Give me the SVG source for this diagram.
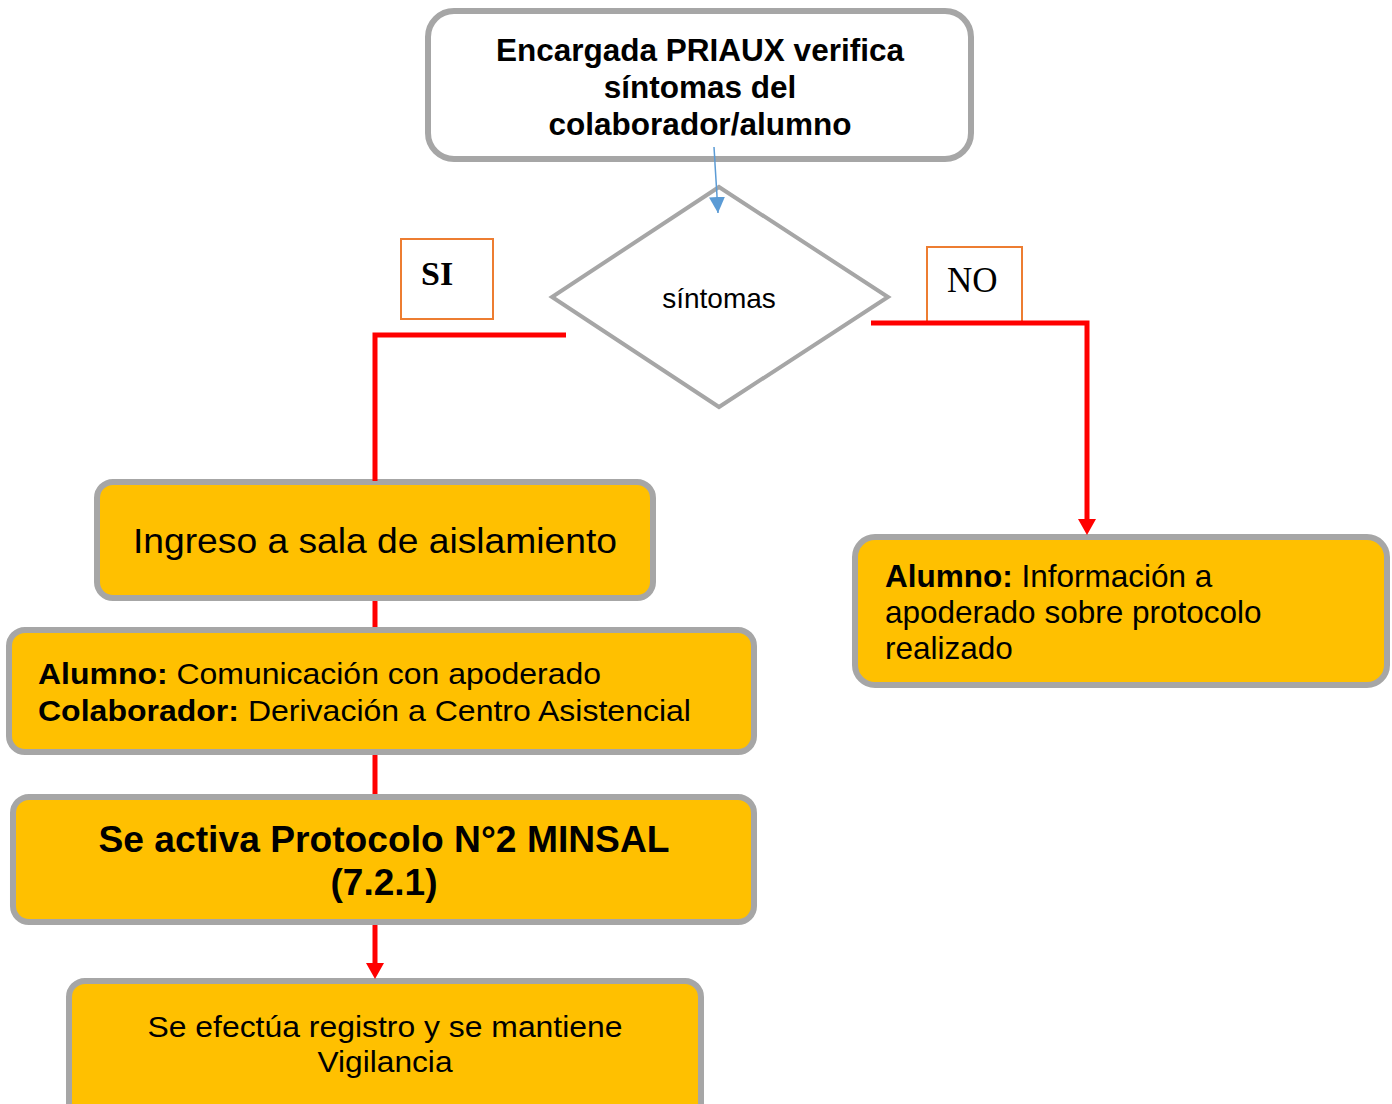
<svg xmlns="http://www.w3.org/2000/svg" width="1392" height="1104" viewBox="0 0 1392 1104">
<style>
.box{fill:#FFC000;stroke:#A6A6A6;stroke-width:6}
.top{fill:#FFFFFF;stroke:#A6A6A6;stroke-width:6}
.lbl{fill:#FFFFFF;stroke:#ED7D31;stroke-width:2}
.t{font-family:"Liberation Sans",Arial,sans-serif;fill:#000}
.s{font-family:"Liberation Serif","Times New Roman",serif;fill:#000}
.red{stroke:#FF0000;stroke-width:5;fill:none}
</style>
<defs>
<marker id="ab" viewBox="0 0 10 10" refX="10" refY="5" markerWidth="16" markerHeight="16" orient="auto" markerUnits="userSpaceOnUse"><path d="M0,0 L10,5 L0,10 z" fill="#5B9BD5"/></marker>
</defs>
<g id="start">
<rect class="top" x="428" y="11" width="543" height="148" rx="26"/>
<text class="t" font-size="31.5" font-weight="bold" text-anchor="middle"><tspan x="700" y="61">Encargada PRIAUX verifica</tspan><tspan x="700" y="98">síntomas del</tspan><tspan x="700" y="135">colaborador/alumno</tspan></text>
</g>
<g id="decision">
<polygon points="719,187 888,297 719,407 552,297" fill="#FFFFFF" stroke="#A6A6A6" stroke-width="4"/>
<text class="t" font-size="28" x="719" y="308" text-anchor="middle">síntomas</text>
</g>
<g id="label-si">
<rect class="lbl" x="401" y="239" width="92" height="80"/>
<text class="s" font-size="34" font-weight="bold" x="421" y="285">SI</text>
</g>
<g id="label-no">
<rect class="lbl" x="927" y="247" width="95" height="76"/>
<text class="s" font-size="35" x="947" y="292">NO</text>
</g>
<g id="ingreso">
<rect class="box" x="97" y="482" width="556" height="116" rx="16"/>
<text class="t" font-size="35" x="375" y="553" text-anchor="middle" textLength="484" lengthAdjust="spacingAndGlyphs">Ingreso a sala de aislamiento</text>
</g>
<g id="comunicacion">
<rect class="box" x="9" y="630" width="745" height="122" rx="16"/>
<text class="t" font-size="29" x="38" y="684" textLength="563" lengthAdjust="spacingAndGlyphs"><tspan font-weight="bold">Alumno:</tspan> Comunicación con apoderado</text>
<text class="t" font-size="29" x="38" y="721" textLength="653" lengthAdjust="spacingAndGlyphs"><tspan font-weight="bold">Colaborador:</tspan> Derivación a Centro Asistencial</text>
</g>
<g id="protocolo">
<rect class="box" x="13" y="797" width="741" height="125" rx="16"/>
<text class="t" font-size="36" font-weight="bold" x="384" y="852" text-anchor="middle" textLength="571" lengthAdjust="spacingAndGlyphs">Se activa Protocolo N°2 MINSAL</text>
<text class="t" font-size="36" font-weight="bold" x="384" y="895" text-anchor="middle" textLength="107" lengthAdjust="spacingAndGlyphs">(7.2.1)</text>
</g>
<g id="registro">
<rect class="box" x="69" y="981" width="632" height="140" rx="16"/>
<text class="t" font-size="30" x="385" y="1037" text-anchor="middle" textLength="475" lengthAdjust="spacingAndGlyphs">Se efectúa registro y se mantiene</text>
<text class="t" font-size="30" x="385" y="1072" text-anchor="middle" textLength="135" lengthAdjust="spacingAndGlyphs">Vigilancia</text>
</g>
<g id="informacion">
<rect class="box" x="855" y="537" width="532" height="148" rx="20"/>
<text class="t" font-size="31.5"><tspan x="885" y="587"><tspan font-weight="bold">Alumno:</tspan> Información a</tspan><tspan x="885" y="623">apoderado sobre protocolo</tspan><tspan x="885" y="659">realizado</tspan></text>
</g>
<g id="connectors">
<line x1="714" y1="147" x2="718" y2="213" stroke="#5B9BD5" stroke-width="1.5" marker-end="url(#ab)"/>
<polyline class="red" points="566,335 375,335 375,481"/>
<line class="red" x1="375" y1="601" x2="375" y2="627"/>
<line class="red" x1="375" y1="755" x2="375" y2="794"/>
<path d="M375,925 V964" class="red"/>
<path d="M366,963 L384,963 L375,979 z" fill="#FF0000"/>
<polyline class="red" points="871,323 1087,323 1087,520"/>
<path d="M1078,519 L1096,519 L1087,535 z" fill="#FF0000"/>
</g>
</svg>
